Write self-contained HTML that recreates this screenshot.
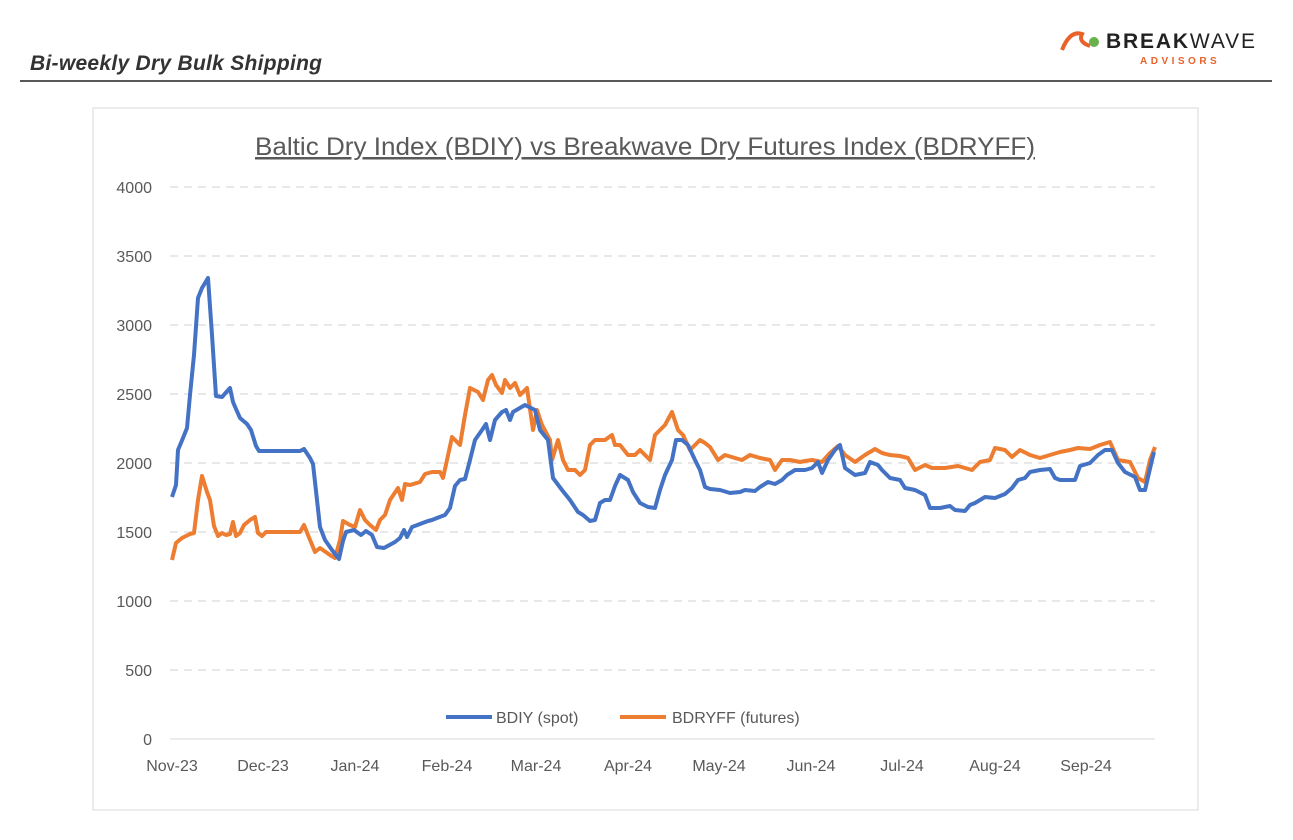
<!DOCTYPE html><html><head><style>body{margin:0;background:#fff;width:1293px;height:835px;overflow:hidden;font-family:"Liberation Sans",sans-serif}</style></head><body>
<svg width="1293" height="835" xmlns="http://www.w3.org/2000/svg" font-family="Liberation Sans, sans-serif">
<text x="30" y="70" font-size="21" font-weight="bold" font-style="italic" fill="#333" textLength="292">Bi-weekly Dry Bulk Shipping</text>
<line x1="20" y1="81" x2="1272" y2="81" stroke="#222" stroke-width="1.5"/>
<path d="M1062 50 Q1070 30 1082 34 Q1078 42 1090 46" fill="none" stroke="#e8622a" stroke-width="4"/>
<circle cx="1094" cy="42" r="5" fill="#6ab04c"/>
<text x="1106" y="48" font-size="21" font-weight="bold" fill="#222" textLength="149">BREAK<tspan font-weight="normal">WAVE</tspan></text>
<text x="1140" y="64" font-size="10" font-weight="bold" fill="#e8622a" letter-spacing="3.5">ADVISORS</text>
<rect x="93" y="108" width="1105" height="702" fill="#fff" stroke="#d9d9d9"/>
<text x="645" y="155" font-size="25" fill="#595959" text-anchor="middle" text-decoration="underline" textLength="780" lengthAdjust="spacingAndGlyphs">Baltic Dry Index (BDIY) vs Breakwave Dry Futures Index (BDRYFF)</text>
<g stroke="#d9d9d9" stroke-dasharray="8,6" stroke-width="1.2">
<line x1="170" x2="1155" y1="187" y2="187"/><line x1="170" x2="1155" y1="256" y2="256"/><line x1="170" x2="1155" y1="325" y2="325"/><line x1="170" x2="1155" y1="394" y2="394"/><line x1="170" x2="1155" y1="463" y2="463"/><line x1="170" x2="1155" y1="532" y2="532"/><line x1="170" x2="1155" y1="601" y2="601"/><line x1="170" x2="1155" y1="670" y2="670"/></g>
<line x1="170" x2="1155" y1="739" y2="739" stroke="#d9d9d9"/>
<g font-size="16" fill="#595959" text-anchor="end">
<text x="152" y="193">4000</text><text x="152" y="262">3500</text><text x="152" y="331">3000</text><text x="152" y="400">2500</text><text x="152" y="469">2000</text><text x="152" y="538">1500</text><text x="152" y="607">1000</text><text x="152" y="676">500</text><text x="152" y="745">0</text></g>
<g font-size="16" fill="#595959" text-anchor="middle">
<text x="172" y="771">Nov-23</text><text x="263" y="771">Dec-23</text><text x="355" y="771">Jan-24</text><text x="447" y="771">Feb-24</text><text x="536" y="771">Mar-24</text><text x="628" y="771">Apr-24</text><text x="719" y="771">May-24</text><text x="811" y="771">Jun-24</text><text x="902" y="771">Jul-24</text><text x="995" y="771">Aug-24</text><text x="1086" y="771">Sep-24</text></g>
<polyline fill="none" stroke="#ed7d31" stroke-width="4" stroke-linejoin="round" points="172,560 176,543 182,538 190,534 194,533 198,500 202,476 207,492 210,500 214,526 218,536 222,533 226,535 230,534 233,522 236,536 240,533 244,525 250,520 255,517 258,533 262,536 266,532 300,532 304,525 308,535 315,552 320,548 330,555 335,558 340,540 343,521 350,525 355,527 360,510 365,520 370,525 376,530 380,520 385,515 390,500 398,488 402,500 405,484 410,485 420,482 425,474 432,472 440,472 443,478 447,460 452,437 460,445 465,415 470,388 478,392 483,400 488,380 492,375 496,385 502,393 505,380 510,388 515,383 520,395 525,390 527,388 533,430 537,410 542,425 550,440 552,460 558,440 563,460 568,470 575,470 580,475 585,470 590,445 595,440 605,440 612,435 615,445 620,445 628,455 635,455 640,450 650,460 655,435 660,430 665,425 672,412 678,430 683,435 690,450 695,445 700,440 705,443 710,447 718,460 725,455 735,458 742,460 750,455 760,458 770,460 775,470 782,460 790,460 800,462 805,461 812,460 822,462 830,453 838,446 845,455 855,462 865,455 875,449 882,453 890,455 900,456 908,458 915,470 925,465 932,468 945,468 958,466 965,468 972,470 980,462 990,460 995,448 1005,450 1012,457 1020,450 1030,455 1040,458 1050,455 1060,452 1070,450 1078,448 1090,449 1100,445 1110,442 1118,460 1130,462 1138,478 1145,482 1150,460 1155,447"/>
<polyline fill="none" stroke="#4472c4" stroke-width="4" stroke-linejoin="round" points="172,497 176,485 178,450 183,438 187,428 190,395 194,355 198,298 202,288 208,278 212,335 216,396 222,397 230,388 233,402 236,409 240,418 247,424 251,430 256,446 259,451 300,451 304,449 310,458 313,464 317,500 320,527 325,540 332,550 339,559 343,541 346,532 354,530 361,535 366,531 372,535 377,547 384,548 395,542 400,538 404,530 407,537 412,527 420,524 428,521 432,520 437,518 445,515 450,508 455,486 460,480 465,479 470,460 475,440 482,430 486,424 490,440 495,420 502,412 506,410 510,420 513,412 525,405 535,410 540,430 548,440 553,478 562,490 570,500 578,512 583,515 590,521 595,520 600,503 605,500 610,500 615,486 620,475 628,480 633,492 640,503 648,507 655,508 660,490 665,475 672,460 676,440 682,440 688,445 695,460 700,470 705,487 710,489 720,490 730,493 740,492 745,490 755,491 760,487 768,482 775,484 782,480 787,475 795,470 805,470 812,468 818,462 822,473 828,460 835,450 840,445 845,468 855,475 865,473 870,462 878,465 882,470 890,478 900,480 905,488 915,490 925,495 930,508 940,508 950,506 955,510 965,511 970,505 975,503 985,497 995,498 1005,494 1012,488 1018,480 1025,478 1030,472 1040,470 1050,469 1055,478 1060,480 1075,480 1080,466 1090,463 1098,455 1105,450 1112,450 1118,463 1125,472 1135,477 1140,490 1145,490 1152,460 1154,452"/>
<line x1="446" x2="492" y1="717" y2="717" stroke="#4472c4" stroke-width="4"/>
<text x="496" y="723" font-size="16" fill="#595959">BDIY (spot)</text>
<line x1="620" x2="666" y1="717" y2="717" stroke="#ed7d31" stroke-width="4"/>
<text x="672" y="723" font-size="16" fill="#595959">BDRYFF (futures)</text>
</svg></body></html>
